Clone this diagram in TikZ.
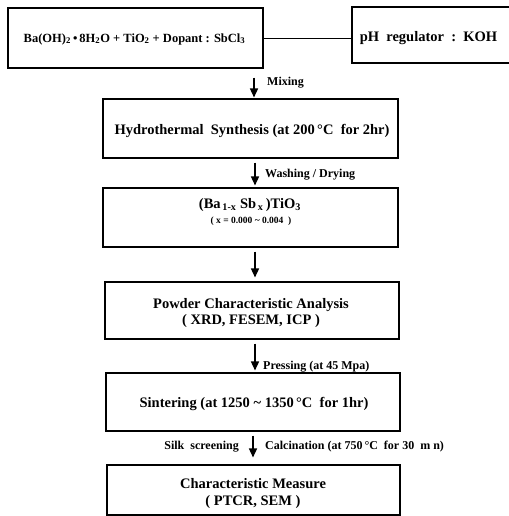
\documentclass[tikz,border=0pt]{standalone}
\usepackage{fontspec}
\setmainfont{Liberation Serif}
\usetikzlibrary{arrows.meta}
\begin{document}
\begin{tikzpicture}[x=1pt,y=-1pt,
  box/.style={draw,line width=1.1pt,rectangle,inner sep=0pt},
  txt/.style={inner sep=0pt,align=center,font=\fontsize{14.5}{17}\selectfont\bfseries},
  lab/.style={inner sep=0pt,font=\fontsize{12}{14}\selectfont\bfseries},
  flow/.style={line width=1.5pt,-{Triangle[length=9pt,width=8pt]}},
  link/.style={line width=0.9pt}]
\path[use as bounding box,fill=white] (0,0) rectangle (508,516);

% boxes
\node[box,minimum width=255pt,minimum height=60pt] (b1) at (135.5,38) {};
\node[box,minimum width=170pt,minimum height=56pt] (ph) at (437,35) {};
\node[box,minimum width=295pt,minimum height=59pt] (b3) at (250.5,128.5) {};
\node[box,minimum width=295pt,minimum height=59pt] (b4) at (250.5,217.5) {};
\node[box,minimum width=294pt,minimum height=57pt] (b5) at (252,310.5) {};
\node[box,minimum width=294pt,minimum height=58pt] (b6) at (253,402) {};
\node[box,minimum width=293pt,minimum height=50pt] (b7) at (253.5,490) {};

% texts
\node[txt,font=\fontsize{12.5}{15}\selectfont\bfseries] (b1t) at (134.5,39)
  {Ba(OH)\textsubscript{2}\,•\,8H\textsubscript{2}O + TiO\textsubscript{2} + Dopant : SbCl\textsubscript{3}};
\node[txt] (pht) at (428.5,38) {pH\ \ regulator\ \ :\ \ KOH};
\node[txt] (b3t) at (252,131) {Hydrothermal\ \ Synthesis (at 200\,°C\ \ for 2hr)};
\node[txt] (b4a) at (250,205)
  {(Ba\textsubscript{\,1-x} Sb\textsubscript{\,x}\,)TiO\textsubscript{3}};
\node[txt,font=\fontsize{9.5}{11}\selectfont\bfseries] (b4b) at (251,221)
  {(\ x = 0.000 \textasciitilde\ 0.004\ \ )};
\node[txt,font=\fontsize{14.5}{16}\selectfont\bfseries] (b5t) at (251,313)
  {Powder Characteristic Analysis\\( XRD, FESEM, ICP )};
\node[txt] (b6t) at (254,404) {Sintering (at 1250 \textasciitilde\ 1350\,°C\ \ for 1hr)};
\node[txt] (b7t) at (253,494) {Characteristic Measure\\( PTCR, SEM )};

% connector
\draw[link] (b1.east) -- (b1.east -| ph.west);

% arrows
\coordinate (x1) at (254,0);
\coordinate (x2) at (255,0);
\coordinate (x3) at (253,0);
\draw[flow] ([yshift=-9pt]b1.south -| x1) -- ([yshift=1pt]b3.north -| x1);
\draw[flow] ([yshift=-4pt]b3.south -| x2) -- ([yshift=2pt]b4.north -| x2);
\draw[flow] ([yshift=-4pt]b4.south -| x2) -- ([yshift=4pt]b5.north -| x2);
\draw[flow] ([yshift=-4pt]b5.south -| x2) -- ([yshift=2pt]b6.north -| x2);
\draw[flow] ([yshift=-4pt]b6.south -| x3) -- ([yshift=7pt]b7.north -| x3);

% labels
\node[lab,anchor=west] (l1) at (267,83) {Mixing};
\node[lab,anchor=west] (l2) at (265,175) {Washing / Drying};
\node[lab,anchor=west] (l3) at (263,367) {Pressing (at 45 Mpa)};
\node[lab,anchor=east] (l4) at (239,447) {Silk\ \ screening};
\node[lab,anchor=west] (l5) at (265,447) {Calcination (at 750\,°C\ \ for 30\ \ m n)};
\end{tikzpicture}
\end{document}
